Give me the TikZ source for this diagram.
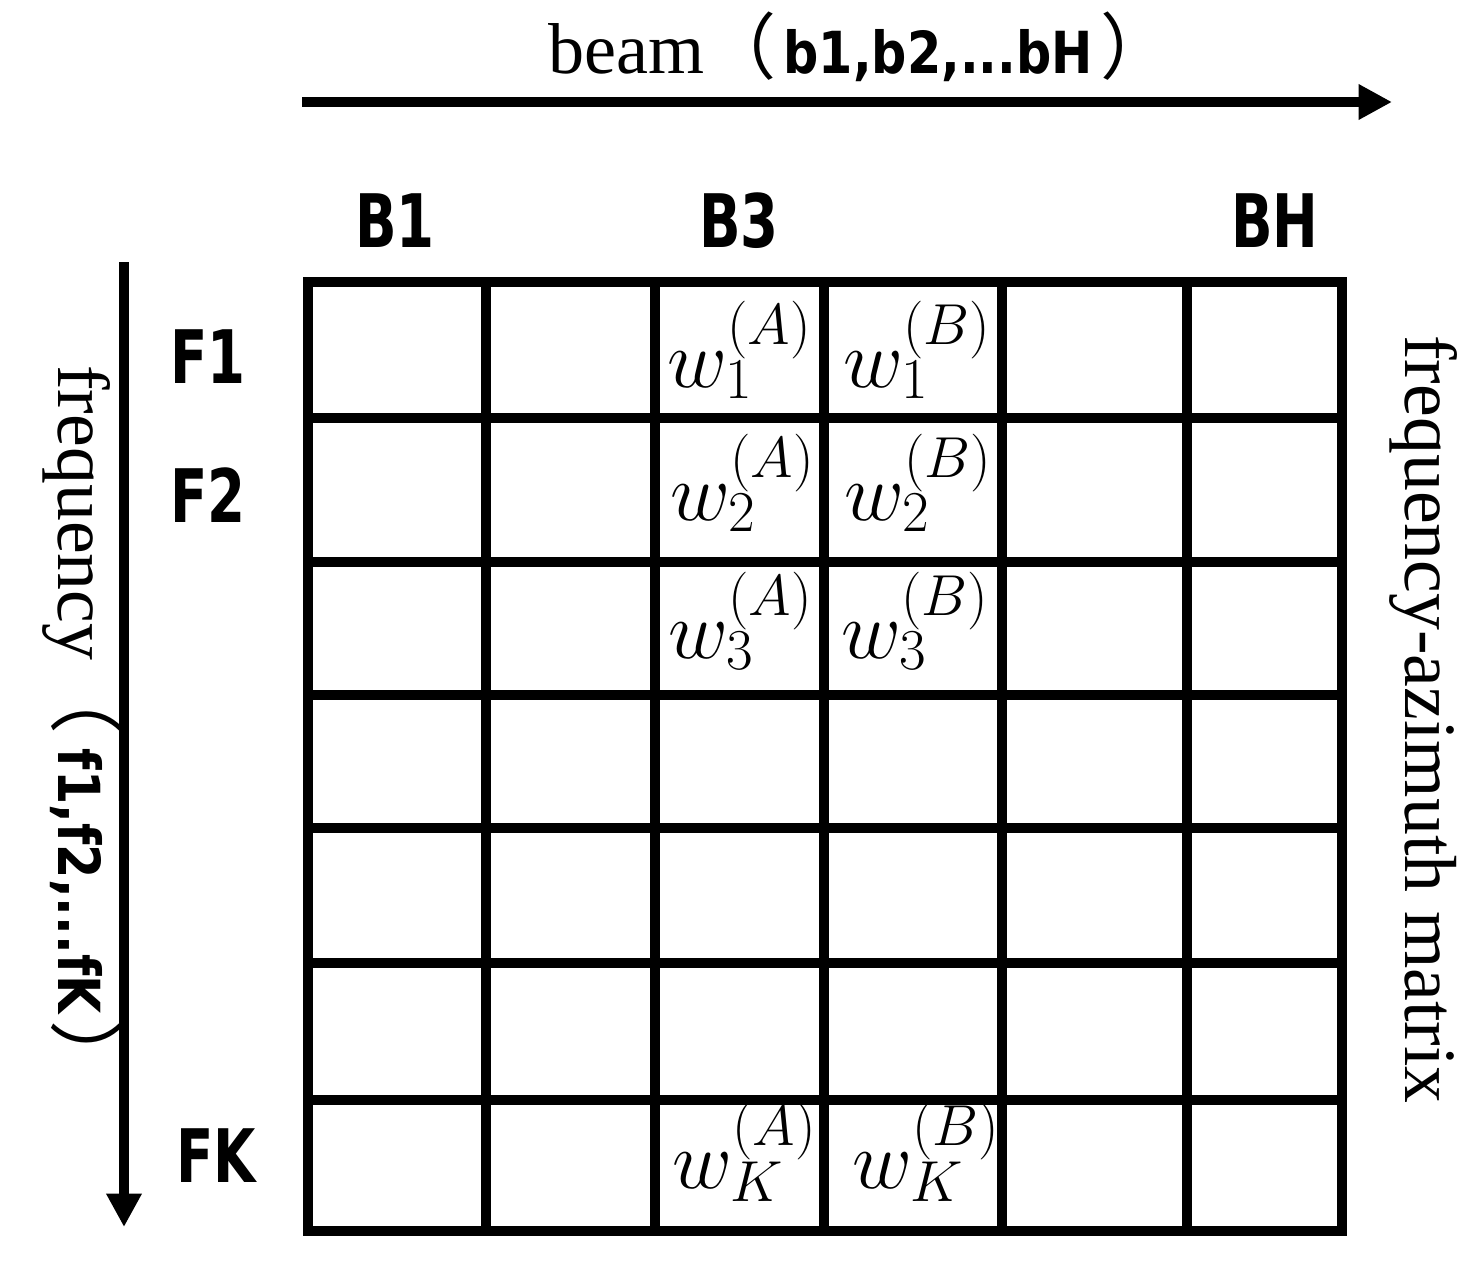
\RequirePackage{fix-cm}
\documentclass[tikz,border=0pt]{standalone}
\usepackage{fontspec}
\setmainfont{Liberation Serif}
\newfontfamily\cjk{Noto Sans CJK SC}
\newfontfamily\rangefont{DejaVu Sans Bold}[FakeStretch=0.85]
\newfontfamily\headfont{DejaVu Sans Bold}[FakeStretch=0.74]
\usetikzlibrary{arrows.meta}

\begin{document}
\begin{tikzpicture}[x=0.02cm, y=-0.02cm,
    every node/.style={inner sep=0pt},
    axis/.style={line width=5.7pt, -{Triangle[length=19pt,width=19pt]}},
    grid line/.style={line width=5.6pt, line cap=rect},
    title/.style={font=\fontsize{41}{48}\selectfont, anchor=base west},
    head/.style={font=\headfont\fontsize{42}{50}\selectfont, anchor=base},
    weight/.style={font=\fontsize{47}{56}\selectfont, anchor=base west}]

\useasboundingbox (0,0) rectangle (1484,1265);

\node[title] (beam) at (548,73) {beam{\cjk （}\hspace{0.1em}{\rangefont\fontsize{33}{40}\selectfont b1,b2,...bH}\hspace{0.1em}{\cjk ）}};
\node[title, rotate=-90] (freq) at (58,365) {\fontsize{42}{48}\selectfont frequency{\cjk （}\hspace{0.2em}{\rangefont\fontsize{33}{40}\selectfont f1,f2,...fK}\hspace{0.1em}{\cjk ）}};
\node[title, rotate=-90] (matrix) at (1405,335) {\fontsize{42}{48}\selectfont frequency-azimuth matrix};

\coordinate (beam tail) at (302,102);
\coordinate (beam tip) at (1392,102);
\draw[axis] (beam tail) -- (beam tip);
\coordinate (freq tail) at (124,262);
\coordinate (freq tip) at (124,1227);
\draw[axis] (freq tail) -- (freq tip);

\node[head] (B1) at (395,247) {B1};
\node[head] (B3) at (739,247) {B3};
\node[head] (BH) at (1275,247) {BH};
\node[head] (F1) at (208,383) {F1};
\node[head] (F2) at (208,522) {F2};
\node[head] (FK) at (216,1182) {FK};

\foreach \xa/\xb/\y/\k in {667/843/387/1, 670/844/520/2, 668/841/658/3, 672/852/1188/K} {
  \node[weight] (wA\k) at (\xa,\y) {$w_{\k}^{(A)}$};
  \node[weight] (wB\k) at (\xb,\y) {$w_{\k}^{(B)}$};
}

\foreach \x in {308,486,655,824,1002,1187,1342}
  \draw[grid line] (\x,282) -- (\x,1231);
\foreach \y in {282,418,562,695,828,963,1100,1231}
  \draw[grid line] (308,\y) -- (1342,\y);
\end{tikzpicture}
\end{document}
